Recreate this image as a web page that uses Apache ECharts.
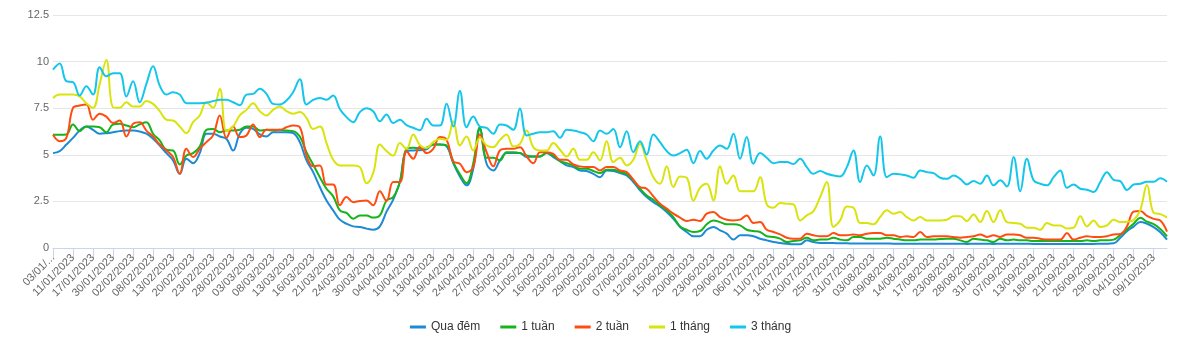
<!DOCTYPE html>
<html><head><meta charset="utf-8">
<script src="https://cdn.jsdelivr.net/npm/echarts@6/dist/echarts.min.js"></script>
<style>html,body{margin:0;padding:0;background:#fff}#c{width:1201px;height:343px}</style>
</head><body><div id="c"></div>
<script>
const categories = [
"03/01/2023","05/01/2023","09/01/2023","11/01/2023","12/01/2023","16/01/2023","17/01/2023","18/01/2023","19/01/2023","30/01/2023",
"31/01/2023","01/02/2023","02/02/2023","06/02/2023","07/02/2023","08/02/2023","09/02/2023","10/02/2023","13/02/2023","15/02/2023",
"16/02/2023","20/02/2023","21/02/2023","22/02/2023","23/02/2023","24/02/2023","27/02/2023","28/02/2023","01/03/2023","02/03/2023",
"03/03/2023","06/03/2023","07/03/2023","08/03/2023","09/03/2023","10/03/2023","13/03/2023","14/03/2023","15/03/2023","16/03/2023",
"17/03/2023","20/03/2023","21/03/2023","22/03/2023","23/03/2023","24/03/2023","27/03/2023","29/03/2023","30/03/2023","31/03/2023",
"03/04/2023","04/04/2023","05/04/2023","07/04/2023","10/04/2023","11/04/2023","12/04/2023","13/04/2023","14/04/2023","17/04/2023",
"19/04/2023","20/04/2023","21/04/2023","24/04/2023","25/04/2023","26/04/2023","27/04/2023","28/04/2023","04/05/2023","05/05/2023",
"08/05/2023","10/05/2023","11/05/2023","12/05/2023","15/05/2023","16/05/2023","18/05/2023","22/05/2023","23/05/2023","24/05/2023",
"26/05/2023","29/05/2023","30/05/2023","01/06/2023","02/06/2023","05/06/2023","06/06/2023","07/06/2023","08/06/2023","09/06/2023",
"12/06/2023","13/06/2023","14/06/2023","15/06/2023","16/06/2023","19/06/2023","20/06/2023","21/06/2023","22/06/2023","23/06/2023",
"26/06/2023","28/06/2023","29/06/2023","03/07/2023","05/07/2023","06/07/2023","07/07/2023","10/07/2023","11/07/2023","12/07/2023",
"13/07/2023","14/07/2023","17/07/2023","19/07/2023","20/07/2023","21/07/2023","24/07/2023","25/07/2023","27/07/2023","28/07/2023",
"31/07/2023","01/08/2023","02/08/2023","03/08/2023","07/08/2023","08/08/2023","09/08/2023","10/08/2023","11/08/2023","14/08/2023",
"15/08/2023","16/08/2023","17/08/2023","21/08/2023","22/08/2023","23/08/2023","24/08/2023","25/08/2023","28/08/2023","29/08/2023",
"30/08/2023","31/08/2023","05/09/2023","06/09/2023","07/09/2023","11/09/2023","12/09/2023","13/09/2023","14/09/2023","15/09/2023",
"18/09/2023","19/09/2023","20/09/2023","21/09/2023","22/09/2023","25/09/2023","26/09/2023","27/09/2023","28/09/2023","29/09/2023",
"02/10/2023","03/10/2023","04/10/2023","05/10/2023","06/10/2023","09/10/2023","10/10/2023","11/10/2023"
];

const quaDem = [
5.09,5.2,5.55,5.91,6.3,6.52,6.34,6.13,6.16,6.21,
6.27,6.3,6.3,6.25,6.13,5.86,5.5,5.09,4.7,3.98,
4.79,4.55,5.09,6.13,6.13,5.98,5.86,5.23,6.13,6.45,
6.39,6.09,5.98,6.21,6.21,6.21,6.16,5.68,4.7,4.07,
3.27,2.55,2.02,1.52,1.3,1.16,1.13,1.04,0.98,1.16,
1.95,2.6,3.55,5.2,5.23,5.25,5.3,5.55,5.55,5.45,
4.55,3.84,3.36,4.25,6.39,4.52,4.16,4.7,5.09,5.09,
5.09,4.88,4.91,4.91,5.09,4.88,4.66,4.43,4.34,4.16,
4.13,3.98,3.8,4.16,4.13,4.02,3.89,3.54,3.09,2.73,
2.46,2.23,1.93,1.57,1.13,0.86,0.63,0.63,0.98,1.13,
0.95,0.77,0.45,0.68,0.68,0.63,0.5,0.41,0.32,0.27,
0.23,0.2,0.2,0.41,0.32,0.27,0.27,0.27,0.25,0.25,
0.24,0.24,0.24,0.24,0.24,0.24,0.23,0.23,0.23,0.23,
0.23,0.23,0.23,0.23,0.23,0.23,0.23,0.22,0.23,0.23,
0.23,0.22,0.23,0.23,0.23,0.23,0.23,0.22,0.22,0.22,
0.22,0.22,0.22,0.22,0.22,0.22,0.22,0.23,0.23,0.25,
0.55,0.9,1.15,1.4,1.3,1.12,0.85,0.45
];

const tuan1 = [
6.07,6.07,6.09,6.63,6.27,6.52,6.52,6.48,6.21,6.63,
6.66,6.57,6.48,6.63,6.75,6.13,5.77,5.27,5.23,4.48,
4.96,5.09,5.45,6.34,6.39,6.21,6.3,6.3,6.34,6.52,
6.52,6.3,6.34,6.3,6.34,6.3,6.27,5.98,5.14,4.48,
3.8,3.18,2.77,2.02,1.88,1.57,1.75,1.75,1.63,1.75,
2.55,2.73,3.54,5.32,5.38,5.35,5.38,5.55,5.55,5.5,
4.61,3.95,3.48,4.55,6.48,4.84,4.84,4.7,5.14,5.14,
5.09,4.96,4.91,4.91,5.09,4.96,4.66,4.55,4.43,4.25,
4.25,4.13,4.02,4.2,4.2,4.07,3.98,3.63,3.18,2.82,
2.59,2.29,2.02,1.66,1.16,0.98,0.86,0.91,1.27,1.48,
1.39,1.27,1.27,1.21,0.98,0.91,0.86,0.63,0.59,0.5,
0.32,0.38,0.41,0.55,0.41,0.45,0.45,0.55,0.45,0.41,
0.59,0.59,0.5,0.5,0.5,0.55,0.5,0.45,0.41,0.41,
0.45,0.45,0.45,0.48,0.5,0.5,0.41,0.32,0.5,0.45,
0.41,0.32,0.5,0.41,0.45,0.41,0.41,0.38,0.38,0.38,
0.38,0.38,0.38,0.38,0.38,0.41,0.38,0.41,0.41,0.45,
0.7,1.0,1.3,1.62,1.41,1.28,1.02,0.62
];

const tuan2 = [
6.07,5.73,5.91,7.52,7.64,7.7,6.88,7.2,7.05,6.7,
6.84,5.98,6.66,6.75,6.3,5.98,5.55,5.23,4.88,3.98,
5.32,4.88,5.32,5.68,6.04,7.11,5.91,6.52,5.95,6.04,
6.63,5.95,6.34,6.34,6.34,6.48,6.57,6.48,4.96,4.38,
4.43,3.41,3.41,2.29,2.73,2.46,2.52,2.55,2.29,3.05,
2.52,3.54,3.54,5.2,4.79,5.45,5.09,5.32,5.95,5.8,
4.66,4.52,4.07,4.34,6.09,5.14,4.38,5.23,5.32,5.32,
5.41,4.91,4.55,5.14,5.14,5.05,4.73,4.73,4.48,4.38,
4.34,4.34,4.16,4.34,4.34,4.16,4.07,3.66,3.27,3.18,
2.77,2.38,2.11,1.84,1.63,1.45,1.52,1.45,1.84,1.93,
1.66,1.52,1.48,1.52,1.75,1.34,1.39,0.98,0.86,0.73,
0.55,0.5,0.5,0.77,0.68,0.63,0.63,0.8,0.68,0.68,
0.73,0.68,0.77,0.8,0.8,0.68,0.68,0.59,0.63,0.59,
0.86,0.59,0.63,0.63,0.63,0.59,0.55,0.59,0.63,0.73,
0.59,0.68,0.59,0.73,0.73,0.68,0.55,0.55,0.5,0.45,
0.45,0.45,0.8,0.45,0.55,0.63,0.59,0.59,0.63,0.73,
0.75,1.16,1.95,1.98,1.72,1.56,1.47,0.88
];

const thang1 = [
8.05,8.23,8.23,8.23,8.13,7.77,7.52,8.8,10.09,7.55,
7.52,7.82,7.59,7.59,7.88,7.73,7.34,6.88,6.84,6.52,
6.16,6.75,7.11,7.82,7.52,8.54,6.27,6.52,7.11,7.41,
7.77,7.34,7.11,7.41,7.59,7.34,7.2,7.29,6.98,6.39,
6.52,5.63,4.73,4.43,4.43,4.43,4.34,3.48,4.02,5.55,
5.2,4.96,5.63,5.32,6.09,5.52,5.36,5.68,5.86,5.8,
6.8,5.5,5.98,5.23,5.91,5.5,5.41,5.8,6.09,5.45,
5.59,6.3,5.41,5.23,5.23,5.63,5.27,4.91,5.32,4.73,
4.73,5.14,4.7,5.73,4.61,4.84,4.43,4.73,5.59,4.7,
3.8,3.45,4.38,3.27,3.84,3.77,2.55,3.23,3.45,2.55,
4.38,3.45,3.89,3.05,3.05,3.05,3.8,2.34,2.16,2.41,
2.38,2.34,1.48,1.75,1.98,2.73,3.54,1.13,1.48,2.23,
2.16,1.34,1.34,1.27,1.66,2.02,1.84,1.93,1.66,1.48,
1.66,1.48,1.48,1.48,1.52,1.7,1.7,1.45,1.8,1.39,
1.98,1.39,2.02,1.39,1.34,1.3,1.09,1.09,0.98,1.34,
1.21,1.21,1.04,1.09,1.7,1.16,1.48,1.13,1.21,1.52,
1.39,1.41,1.5,2.04,3.38,1.89,1.82,1.63
];

const thang3 = [
9.57,9.9,8.95,8.9,8.18,8.68,8.23,9.7,9.21,9.38,
9.38,8.13,8.95,7.82,8.8,9.75,8.71,8.23,8.36,8.23,
7.77,7.77,7.77,7.79,7.88,7.95,7.96,7.82,7.66,8.23,
8.27,8.55,8.27,7.73,7.7,7.91,8.36,9.05,7.7,7.95,
8.05,7.95,8.18,7.46,7.02,6.75,7.29,7.5,7.34,6.8,
7.16,6.7,6.88,6.59,6.45,6.32,6.93,6.57,6.57,7.74,
6.52,8.42,6.48,7.05,6.52,6.45,6.13,6.63,6.57,6.34,
7.48,6.04,6.13,6.21,6.21,6.27,5.91,6.34,6.3,6.21,
6.09,5.73,6.3,6.13,6.39,5.41,6.27,5.14,5.73,5.02,
6.09,5.68,5.2,4.96,5.09,5.27,4.55,5.2,4.79,5.23,
5.5,5.32,6.13,4.79,5.95,4.52,5.09,4.84,4.55,4.61,
4.61,4.5,4.79,4.34,3.98,4.13,3.98,3.89,3.84,4.34,
5.23,3.54,4.43,3.89,5.98,3.8,3.98,3.95,3.89,3.77,
4.16,4.07,4.02,3.77,3.71,3.89,3.71,3.41,3.59,3.45,
3.89,3.36,3.63,3.3,4.88,3.05,4.79,3.63,3.45,3.36,
3.8,4.16,3.23,3.41,3.18,3.13,3.0,3.54,4.07,3.66,
3.59,3.11,3.41,3.45,3.55,3.55,3.74,3.55
];

const seriesNames = ["Qua đêm","1 tuần","2 tuần","1 tháng","3 tháng"];
const seriesColors = ["#1c8ad4","#16b31a","#ff4c10","#d9e30c","#14c6ea"];
const seriesData = [quaDem, tuan1, tuan2, thang1, thang3];

seriesData.forEach((d,k)=>{ if(d.length!==categories.length) throw new Error(seriesNames[k]+" length "+d.length+" vs "+categories.length); });

const font = "'Liberation Sans', Arial, sans-serif";
const chart = echarts.init(document.getElementById('c'), null, {renderer:'canvas'});
chart.setOption({
  animation: false,
  backgroundColor: '#fff',
  color: seriesColors,
  grid: {left: 53, right: 34, top: 15, bottom: 95, containLabel: false},
  legend: {
    bottom: 5, left: 'center', itemGap: 20, itemWidth: 16, itemHeight: 3,
    icon: 'rect',
    textStyle: {fontFamily: font, fontSize: 12, color: '#333'},
    data: seriesNames
  },
  xAxis: {
    type: 'category', data: categories, boundaryGap: false,
    axisLine: {lineStyle: {color: '#ccd6eb'}},
    axisTick: {interval: 2, length: 10, lineStyle: {color: '#ccd6eb'}},
    axisLabel: {interval: 2, rotate: 45, margin: 8, fontFamily: font, fontSize: 11, color: '#666',
      formatter: (v, i) => i === 0 ? v.slice(0, 6) + '...' : v}
  },
  yAxis: {
    type: 'value', min: 0, max: 12.5, interval: 2.5,
    axisLine: {show: false}, axisTick: {show: false},
    axisLabel: {margin: 4, fontFamily: font, fontSize: 11, color: '#666', padding: [0, 0, 5, 0]},
    splitLine: {lineStyle: {color: '#e6e6e6'}}
  },
  series: seriesData.map((d,k)=>({
    name: seriesNames[k], type: 'line', data: d, smooth: 0.4,
    symbol: 'none', lineStyle: {width: 2, color: seriesColors[k]},
    itemStyle: {color: seriesColors[k]}
  }))
});
</script>
</body></html>
